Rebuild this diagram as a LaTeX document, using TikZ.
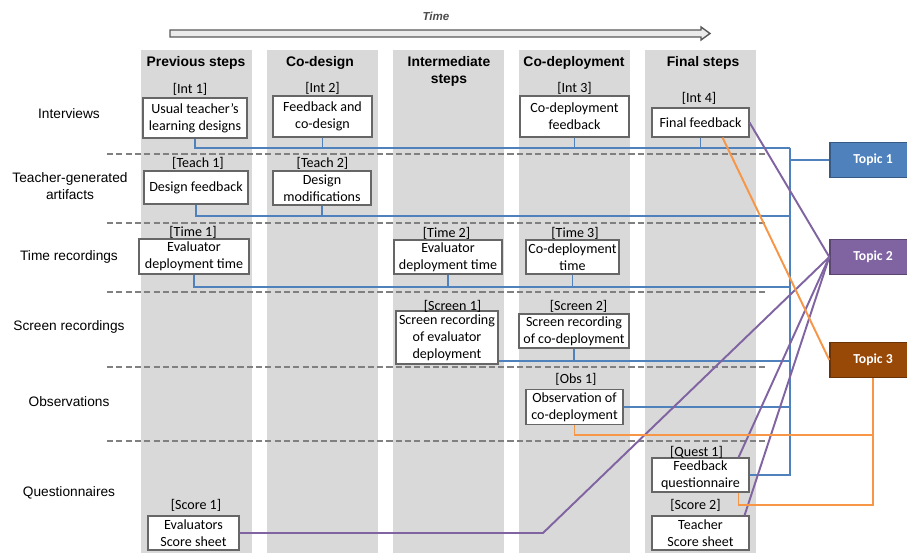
\documentclass[tikz,border=0pt]{standalone}
\usepackage{fontspec}
\setmainfont{Carlito}
\newfontfamily\arialfont{Liberation Sans}
\definecolor{topicblue}{HTML}{4F81BD}
\definecolor{topicpurple}{HTML}{8064A2}
\definecolor{topicbrown}{HTML}{984807}
\definecolor{linkorange}{HTML}{F79646}
\definecolor{colgray}{HTML}{D9D9D9}
\begin{document}
\begin{tikzpicture}[x=0.02cm,y=-0.02cm,
	box/.style={rectangle,draw=black!60,fill=white,line width=0.6pt,align=center,inner sep=1pt,font=\fontsize{8}{9.8}\selectfont},
	tag/.style={inner sep=0pt,font=\fontsize{8}{9.8}\selectfont},
	rowlab/.style={align=center,font=\arialfont\fontsize{7.8}{9.8}\selectfont},
	colhead/.style={align=center,font=\arialfont\bfseries\fontsize{7.9}{9.6}\selectfont},
	topic/.style={rectangle,draw=#1!70!black,fill=#1,line width=0.8pt,text=white,minimum width=1.72cm,minimum height=0.7cm,font=\bfseries\fontsize{7.8}{9}\selectfont},
	bluelink/.style={line width=1.1pt,color=topicblue},
	purplelink/.style={line width=1.1pt,color=topicpurple},
	orangelink/.style={line width=1.1pt,color=linkorange},
	rowsep/.style={line width=0.6pt,color=black!50,dash pattern=on 3.5pt off 1.8pt}]
	\useasboundingbox (0,0) rectangle (907,553);

	% step columns
	\foreach \cx in {141,267,393,519,645}
		\fill[colgray] (\cx,50) rectangle (\cx+111,553);
	\foreach \sy in {154,223,292,367,441}
		\draw[rowsep] (107,\sy) -- (767,\sy);

	% time arrow
	\draw[line width=0.8pt,draw=black!65,fill=black!8] (170,30) -- (701,30) -- (701,27) -- (710,33.5) -- (701,40) -- (701,37) -- (170,37) -- cycle;
	\node (timelab) [font=\arialfont\bfseries\itshape\fontsize{6.6}{8}\selectfont,text=black!70] at (436,16) {Time};

	\node (H1) [colhead] at (196,63) {Previous steps};
	\node (H2) [colhead] at (320,63) {Co-design};
	\node (H3) [colhead] at (449,71) {Intermediate\\steps};
	\node (H4) [colhead] at (574,63) {Co-deployment};
	\node (H5) [colhead] at (703,63) {Final steps};

	\node (R1) [rowlab] at (69,114) {Interviews};
	\node (R2) [rowlab] at (70,186) {Teacher-generated\\artifacts};
	\node (R3) [rowlab] at (69,257) {Time recordings};
	\node (R4) [rowlab] at (69,327) {Screen recordings};
	\node (R5) [rowlab] at (69,402) {Observations};
	\node (R6) [rowlab] at (69,493) {Questionnaires};

	% interviews
	\node (Int1) [box,minimum width=2.08cm,minimum height=0.8cm] at (195,118) {Usual teacher’s\\learning designs};
	\node (Int2) [box,minimum width=1.98cm,minimum height=0.82cm] at (322.5,116.5) {Feedback and\\co-design};
	\node (Int3) [box,minimum width=2.18cm,minimum height=0.82cm] at (574.5,116.5) {Co-deployment\\feedback};
	\node (Int4) [box,minimum width=1.94cm,minimum height=0.58cm] at (700.5,122.5) {Final feedback};
	\node (tInt1) [tag] at (190,89) {[Int 1]};
	\node (tInt2) [tag] at (322.5,88) {[Int 2]};
	\node (tInt3) [tag] at (574.5,88) {[Int 3]};
	\node (tInt4) [tag] at (699,98) {[Int 4]};

	% teacher artifacts
	\node (Teach1) [box,minimum width=2.08cm,minimum height=0.66cm] at (196,187.5) {Design feedback};
	\node (Teach2) [box,minimum width=1.96cm,minimum height=0.68cm] at (322,188) {Design\\modifications};
	\node (tTeach1) [tag] at (198,163) {[Teach 1]};
	\node (tTeach2) [tag] at (322.5,163) {[Teach 2]};

	% time recordings
	\node (Time1) [box,minimum width=2.2cm,minimum height=0.7cm] at (194,256.5) {Evaluator\\deployment time};
	\node (Time2) [box,minimum width=2.16cm,minimum height=0.68cm] at (448,257) {Evaluator\\deployment time};
	\node (Time3) [box,minimum width=1.86cm,minimum height=0.68cm] at (572.5,257) {Co-deployment\\time};
	\node (tTime1) [tag] at (193,232) {[Time 1]};
	\node (tTime2) [tag] at (446.5,233) {[Time 2]};
	\node (tTime3) [tag] at (575,233) {[Time 3]};

	% screen recordings
	\node (Screen1) [box,minimum width=2.04cm,minimum height=1.06cm] at (447,337.5) {Screen recording\\of evaluator\\deployment};
	\node (Screen2) [box,minimum width=2.2cm,minimum height=0.68cm] at (574,331) {Screen recording\\of co-deployment};
	\node (tScreen1) [tag] at (452.5,306) {[Screen 1]};
	\node (tScreen2) [tag] at (578.5,306) {[Screen 2]};

	% observations
	\node (Obs1) [box,minimum width=1.94cm,minimum height=0.7cm] at (574.5,407) {Observation of\\co-deployment};
	\node (tObs1) [tag] at (576,379) {[Obs 1]};

	% questionnaires
	\node (Quest1) [box,minimum width=1.94cm,minimum height=0.68cm] at (700.5,475) {Feedback\\questionnaire};
	\node (Score2) [box,minimum width=1.94cm,minimum height=0.68cm] at (700.5,533) {Teacher\\Score sheet};
	\node (Score1) [box,minimum width=1.82cm,minimum height=0.68cm] at (193.5,533) {Evaluators\\Score sheet};
	\node (tQuest1) [tag] at (696.5,452) {[Quest 1]};
	\node (tScore2) [tag] at (695.5,505) {[Score 2]};
	\node (tScore1) [tag] at (196,505) {[Score 1]};

	% topics
	\node (Topic1) [topic=topicblue] at (873,160) {Topic 1};
	\node (Topic2) [topic=topicpurple] at (873,257) {Topic 2};
	\node (Topic3) [topic=topicbrown] at (873,360) {Topic 3};

	\coordinate (busI) at (790,148);
	\coordinate (busT) at (790,216);
	\coordinate (busTi) at (790,287);
	\coordinate (busS) at (790,361);
	\coordinate (sBend) at (543,533);
	\coordinate (obsTurn) at (873,435);

	% blue: topic 1
	\draw[bluelink] (Int1.south) |- (busI);
	\draw[bluelink] (Int2.south) -- (Int2.south |- busI);
	\draw[bluelink] (Int3.south) -- (Int3.south |- busI);
	\draw[bluelink] (Int4.south) -- (Int4.south |- busI);
	\draw[bluelink] (Teach1.south) |- (busT);
	\draw[bluelink] (Teach2.south) -- (Teach2.south |- busT);
	\draw[bluelink] (Time1.south) |- (busTi);
	\draw[bluelink] (Time2.south) -- (Time2.south |- busTi);
	\draw[bluelink] (Time3.south) -- (Time3.south |- busTi);
	\draw[bluelink] (Screen1.east |- busS) -- (busS);
	\draw[bluelink] (Screen2.south) -- (Screen2.south |- busS);
	\draw[bluelink] (Obs1.east) -- (Obs1.east -| busI);
	\draw[bluelink] (busI) |- (Quest1.east);
	\draw[bluelink] (Topic1.west) -- (Topic1.west -| busI);

	% purple: topic 2
	\draw[purplelink] (Int4.east) -- (Topic2.west);
	\draw[purplelink] (Score1.east) -- (sBend) -- (Topic2.west);
	\draw[purplelink] ([xshift=-0.22cm]Quest1.north east) -- (Topic2.west);
	\draw[purplelink] ([xshift=-0.1cm]Score2.north east) -- (Topic2.west);

	% orange: topic 3
	\draw[orangelink] ([xshift=-0.54cm]Int4.south east) -- (Topic3.west);
	\draw[orangelink] (Obs1.south) |- (obsTurn) -- (Topic3.south);
	\draw[orangelink] (Topic3.south) -- ++(0,127) -| ([xshift=-0.22cm]Quest1.south east);
\end{tikzpicture}
\end{document}
